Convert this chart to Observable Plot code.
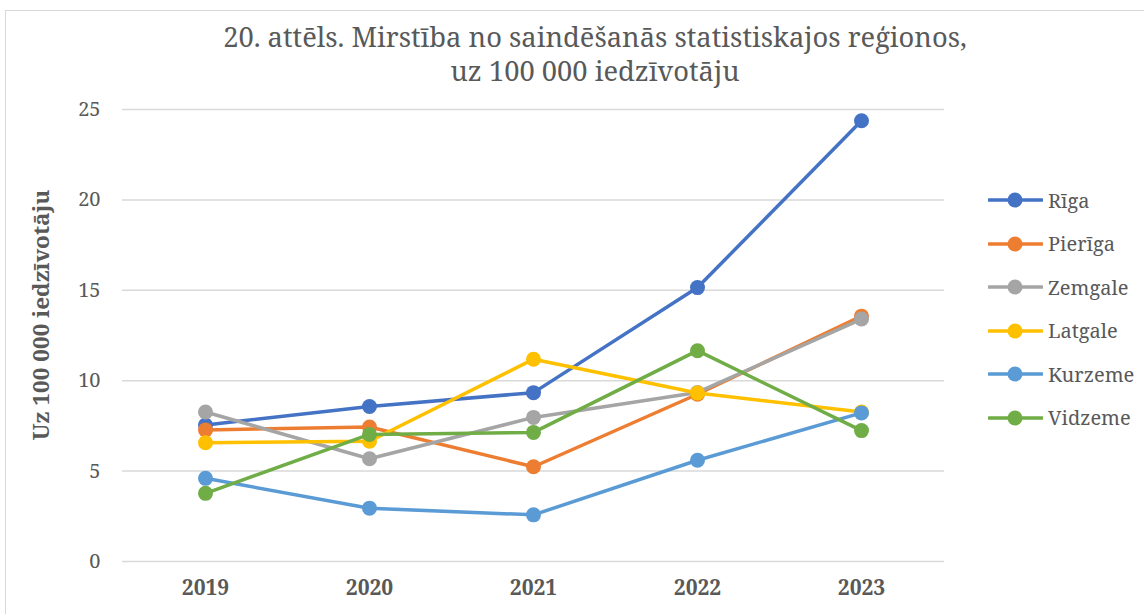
<!DOCTYPE html>
<html>
<head>
<meta charset="utf-8">
<script src="https://cdn.jsdelivr.net/npm/d3@7"></script>
<script src="https://cdn.jsdelivr.net/npm/@observablehq/plot@0.6"></script>
<style>
  html, body { margin: 0; padding: 0; background: #fff; }
  body { width: 1144px; height: 614px; overflow: hidden; position: relative; font-family: "Noto Serif", "DejaVu Serif"; }
  #frame { position: absolute; left: 5px; top: 10px; width: 1160px; height: 640px; border: 1px solid #d9d9d9; box-sizing: border-box; }
  #title { position: absolute; left: 0; width: 1190px; top: 20px; text-align: center; color: #595959; font-size: 27.3px; line-height: 34px; }
  #ylabel { position: absolute; left: 40px; top: 315px; transform: translate(-50%, -50%) rotate(-90deg); white-space: nowrap; color: #595959; font-size: 22.5px; font-weight: bold; }
  #chart { position: absolute; left: 0; top: 0; }
  #legend { position: absolute; left: 988px; top: 200px; }
  .item { position: absolute; left: 0; height: 30px; display: flex; align-items: center; white-space: nowrap; color: #595959; font-size: 20px; transform: translateY(-50%); }
  .item svg { margin-right: 5px; }
</style>
</head>
<body>
<div id="frame"></div>
<div id="title">20. attēls. Mirstība no saindēšanās statistiskajos reģionos,<br>uz 100 000 iedzīvotāju</div>
<div id="chart"></div>
<div id="ylabel">Uz 100 000 iedzīvotāju</div>
<div id="legend"></div>
<script>
const years = ["2019", "2020", "2021", "2022", "2023"];
const regions = ["Rīga", "Pierīga", "Zemgale", "Latgale", "Kurzeme", "Vidzeme"];
const colors = ["#4472C4", "#ED7D31", "#A5A5A5", "#FFC000", "#5B9BD5", "#70AD47"];
const riga    = [7.55, 8.57, 9.34, 15.15, 24.38];
const pieriga = [7.28, 7.44, 5.24, 9.25, 13.57];
const zemgale = [8.27, 5.68, 7.97, 9.35, 13.41];
const latgale = [6.57, 6.65, 11.19, 9.32, 8.27];
const kurzeme = [4.6, 2.95, 2.58, 5.6, 8.22];
const vidzeme = [3.77, 7.03, 7.14, 11.66, 7.24];
const yTicks = [0, 5, 10, 15, 20, 25];

const seriesValues = [riga, pieriga, zemgale, latgale, kurzeme, vidzeme];
const rows = [];
regions.forEach((r, i) => years.forEach((y, j) => rows.push({region: r, year: y, value: seriesValues[i][j]})));

const perSeries = regions.flatMap(r => [
  Plot.line(rows.filter(d => d.region === r), {x: "year", y: "value", stroke: "region", strokeWidth: 3.5, strokeLinejoin: "round", strokeLinecap: "round"}),
  Plot.dot(rows.filter(d => d.region === r), {x: "year", y: "value", fill: "region", r: 7.5, stroke: "none"})
]);

const FONT = "'Noto Serif', 'DejaVu Serif'";
const chart = Plot.plot({
  width: 980,
  height: 614,
  marginLeft: 122,
  marginRight: 36,
  marginTop: 109,
  marginBottom: 53,
  style: {fontFamily: FONT, fontSize: "20px", color: "#595959", background: "transparent", overflow: "visible"},
  x: {type: "point", domain: years, padding: 0.5, label: null},
  y: {domain: [0, 25], ticks: yTicks, label: null},
  color: {domain: regions, range: colors},
  marks: [
    Plot.gridY(yTicks, {stroke: "#d9d9d9", strokeOpacity: 1, strokeWidth: 1.5}),
    Plot.axisY({ticks: yTicks, tickSize: 0, tickPadding: 22, label: null, fontSize: 20, fill: "#595959", fontFamily: FONT}),
    Plot.axisX({tickSize: 0, tickPadding: 19, label: null, fontSize: 21, fontWeight: "bold", fill: "#595959", fontFamily: FONT}),
    ...perSeries
  ]
});
document.getElementById("chart").appendChild(chart);

const legend = document.getElementById("legend");
regions.forEach((r, i) => {
  const div = document.createElement("div");
  div.className = "item";
  div.style.top = (i * 43.5) + "px";
  div.innerHTML = `<svg width="55" height="18"><line x1="1" y1="9" x2="54" y2="9" stroke="${colors[i]}" stroke-width="3.5" stroke-linecap="round"/><circle cx="27" cy="9" r="7.5" fill="${colors[i]}"/></svg><span>${r}</span>`;
  legend.appendChild(div);
});
</script>
</body>
</html>
